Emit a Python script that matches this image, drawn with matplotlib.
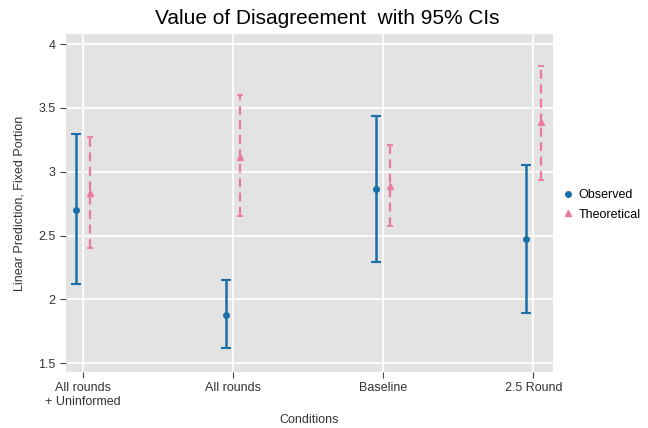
import matplotlib
matplotlib.use("Agg")
import matplotlib.pyplot as plt
import numpy as np

plt.rcParams['font.family'] = ['Liberation Sans', 'DejaVu Sans']

categories = ["All rounds\n+ Uninformed", "All rounds", "Baseline", "2.5 Round"]
obs_est = [2.70, 1.88, 2.865, 2.475]
obs_lo = [2.117, 1.615, 2.295, 1.89]
obs_hi = [3.295, 2.151, 3.4375, 3.055]
theo_est = [2.834, 3.112, 2.89, 3.393]
theo_lo = [2.40, 2.651, 2.573, 2.9375]
theo_hi = [3.27, 3.60, 3.21, 3.828]
yticks = [1.5, 2, 2.5, 3, 3.5, 4]
ytick_labels = ["1.5", "2", "2.5", "3", "3.5", "4"]

blue = "#1b6fa8"
pink = "#ea7aa2"

fig = plt.figure(figsize=(6.48, 4.28), dpi=100)
ax = fig.add_axes([66/648, 1-372/428, (553-66)/648, (372-34)/428])
ax.set_facecolor("#e3e3e3")

x = np.arange(1, len(categories) + 1)
off = 0.047

o = ax.errorbar(x - off, obs_est,
                yerr=[np.array(obs_est) - np.array(obs_lo), np.array(obs_hi) - np.array(obs_est)],
                fmt='o', color=blue, ms=4, elinewidth=1.8, capsize=3.5, capthick=1.5,
                label="Observed", zorder=3)
t = ax.errorbar(x + off, theo_est,
                yerr=[np.array(theo_est) - np.array(theo_lo), np.array(theo_hi) - np.array(theo_est)],
                fmt='^', color=pink, ms=4, elinewidth=1.6, capsize=2.5, capthick=1.3,
                label="Theoretical", zorder=3)
t[2][0].set_linestyle((0, (4, 2.5)))

ax.set_xlim(0.887, 4.13)
ax.set_ylim(1.43, 4.08)
ax.set_xticks(x)
ax.set_xticklabels(categories, fontsize=9)
ax.set_yticks(yticks)
ax.set_yticklabels(ytick_labels, fontsize=9)
ax.grid(True, color="white", linewidth=1.2)
ax.set_axisbelow(True)
for s in ax.spines.values():
    s.set_visible(False)
ax.tick_params(axis='both', length=4, width=0.8, color="#444444", labelcolor="#333333")

ax.set_xlabel("Conditions", fontsize=9, color="#333333")
ax.set_ylabel("Linear Prediction, Fixed Portion", fontsize=9, color="#333333", labelpad=9)
fig.suptitle("Value of Disagreement  with 95% CIs", fontsize=15, y=0.978, x=0.505)

h1 = plt.Line2D([], [], marker='o', color=blue, linestyle='none', ms=4)
h2 = plt.Line2D([], [], marker='^', color=pink, linestyle='none', ms=5)
fig.legend([h1, h2], ["Observed", "Theoretical"], loc='center left',
           bbox_to_anchor=(562/648, 1-205/428), frameon=False, fontsize=9,
           borderpad=0, borderaxespad=0,
           handletextpad=0.3, labelspacing=0.6, handlelength=1.0)

fig.savefig("out.png", dpi=100)
